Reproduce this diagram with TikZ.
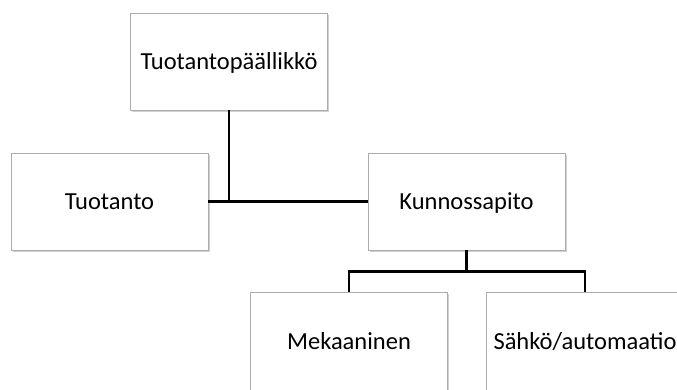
\documentclass[tikz,border=0pt]{standalone}
\usepackage{fontspec}
\setmainfont{Carlito}
\usetikzlibrary{shadows}
\begin{document}
\begin{tikzpicture}[x=1pt,y=-1pt,
  orgbox/.style={rectangle, draw=gray!65, line width=0.8pt, fill=white,
    minimum width=197pt, minimum height=97pt, inner sep=0pt,
    text height=15.5pt, text depth=0pt,
    font=\fontsize{24.5}{29}\selectfont,
    drop shadow={shadow xshift=1.6pt, shadow yshift=-1.6pt, opacity=0.45, fill=gray!80}},
  link/.style={draw=black, line width=2.6pt}]
  \useasboundingbox (0,0) rectangle (677,389);
  \clip (0,0) rectangle (677,389);
  \node[orgbox] (head) at (229,61.5) {Tuotantopäällikkö};
  \node[orgbox] (prod) at (109.5,201.5) {Tuotanto};
  \node[orgbox] (maint) at (466.5,201.5) {Kunnossapito};
  \node[orgbox, minimum height=100pt] (mech) at (349,342) {Mekaaninen};
  \node[orgbox, minimum height=100pt] (elec) at (585,342) {Sähkö/automaatio};
  % head to its two departments
  \draw[link] (head.south) -- (head.south |- prod.east);
  \draw[link] (prod.east) -- (maint.west);
  % maintenance branches
  \coordinate (bus) at ([yshift=-21pt]maint.south);
  \draw[link] (maint.south) -- (bus);
  \draw[link] (mech.north) |- (bus) -| (elec.north);
\end{tikzpicture}
\end{document}
